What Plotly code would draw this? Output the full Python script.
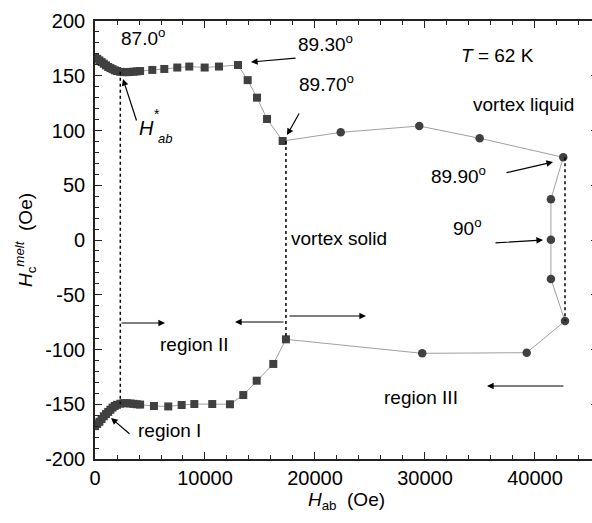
import plotly.graph_objects as go

# ---------------- data ----------------
# upper branch, squares (H_ab in Oe, Hc_melt in Oe)
sq_up_x = [0, 200, 400, 600, 800, 1000, 1200, 1400, 1600, 1800, 2000, 2300, 2600, 2900, 3200, 3500, 3800, 4100,
           5210, 6300, 7480, 8570, 9970, 11270, 13000, 13880, 14730, 15640, 17060]
sq_up_y = [167, 165.5, 164, 162.5, 161, 159.5, 158, 157, 156, 155, 154.3, 153.6, 153.3, 153.3, 153.5, 153.7, 154, 154.3,
           155.3, 156.2, 157.5, 158.4, 157.5, 158.4, 159.8, 146, 130, 110.5, 90.4]
# circles (high-field part), in path order
ci_x = [22340, 29480, 34970, 42570, 41450, 41450, 41450, 42730, 39250, 29750]
ci_y = [98.3, 104.1, 92.9, 75.5, 37.2, 0.3, -35.6, -74, -102.9, -103.5]
# lower branch, squares, in path order (from high field back to zero)
sq_lo_x = [17360, 16210, 14700, 13480, 12270, 10660, 9030, 7880, 6660, 5360,
           4100, 3800, 3500, 3200, 2900, 2600, 2300, 2000, 1800, 1600, 1400, 1200, 1000, 800, 600, 400, 200, 0]
sq_lo_y = [-90.7, -113.2, -128.5, -141.6, -150, -149.8, -149.8, -150.7, -152, -151.6,
           -150.3, -150, -149.6, -149.3, -149, -149, -149.5, -150.5, -151.5, -153, -155, -157, -159, -161, -163.5, -166, -168, -170]
h_star = 2300  # H*_ab position (Oe)

x_ticks = [0, 10000, 20000, 30000, 40000]
y_ticks = [-200, -150, -100, -50, 0, 50, 100, 150, 200]

# ---------------- layout geometry ----------------
# the figure is a few pixels wider than the window so that the right frame
# line falls just outside the visible area, as in the reference
W, H = 598, 523
ML, MR, MT, MB = 95, 0, 21, 64
XR = [0, 45730]
YR = [-200, 200]
PW, PH = W - ML - MR, H - MT - MB


def X(px):  # pixel -> data x (for annotation placement)
    return XR[0] + (px - ML) / PW * (XR[1] - XR[0])


def Y(py):  # pixel -> data y
    return YR[1] - (py - MT) / PH * (YR[1] - YR[0])


FONT = "Liberation Sans, Arial, Helvetica, sans-serif"
MK = "#404040"
LN = "#a0a0a0"

fig = go.Figure()
path_x = sq_up_x + ci_x + sq_lo_x
path_y = sq_up_y + ci_y + sq_lo_y
fig.add_trace(go.Scatter(x=path_x, y=path_y, mode="lines",
                         line=dict(color=LN, width=1), hoverinfo="skip"))
fig.add_trace(go.Scatter(x=sq_up_x + sq_lo_x, y=sq_up_y + sq_lo_y, mode="markers",
                         marker=dict(symbol="square", size=8, color=MK)))
fig.add_trace(go.Scatter(x=ci_x, y=ci_y, mode="markers",
                         marker=dict(symbol="circle", size=8.5, color=MK)))

# dotted vertical guide lines
dot = dict(color="black", width=1.5, dash="dot")
fig.add_shape(type="line", x0=h_star, x1=h_star, y0=153.6, y1=-149.5, line=dot)
fig.add_shape(type="line", x0=sq_lo_x[0], x1=sq_lo_x[0], y0=sq_up_y[-1], y1=sq_lo_y[0], line=dot)
fig.add_shape(type="line", x0=ci_x[7], x1=ci_x[7], y0=ci_y[3], y1=ci_y[7], line=dot)

# text annotations
def txt(s, px, py, size=19):
    fig.add_annotation(x=X(px), y=Y(py), text=s, showarrow=False, xanchor="left", yanchor="middle",
                       font=dict(family=FONT, size=size, color="black"))


txt("87.0<sup>o</sup>", 119, 37)
txt("89.30<sup>o</sup>", 296, 43)
txt("89.70<sup>o</sup>", 297, 83)
txt("<i>T</i> = 62 K", 459, 55)
txt("vortex liquid", 471, 104)
txt("89.90<sup>o</sup>", 429, 175)
txt("90<sup>o</sup>", 451, 227)
txt("vortex solid", 289, 238)
txt("region I", 136, 430)
txt("region II", 158, 344)
txt("region III", 382, 397)
txt("<i>H</i>", 137, 128, 20)
txt("*", 152, 114, 14)
txt("<i>ab</i>", 156, 138, 13)

# arrows: tail (tx,ty) -> head (hx,hy)
def arrow(tx, ty, hx, hy):
    fig.add_annotation(x=X(hx), y=Y(hy), ax=X(tx), ay=Y(ty), xref="x", yref="y", axref="x", ayref="y",
                       text="", showarrow=True, arrowhead=2, arrowsize=1.1, arrowwidth=1.2,
                       arrowcolor="black", standoff=0, startstandoff=0)


arrow(297, 58, 251, 62)
arrow(300, 112, 287, 135)
arrow(505, 173, 553, 162)
arrow(494, 243, 543, 240)
arrow(137, 122, 123, 79)
arrow(131, 435, 111, 418)
arrow(120, 323, 165, 323)
arrow(285, 322, 235, 322)
arrow(288, 316, 366, 316)
arrow(565, 386, 487, 386)

axis_common = dict(showline=True, linecolor="#222", linewidth=1.6, mirror="ticks", ticks="inside",
                   tickcolor="#222", ticklen=7, tickwidth=1.3, showgrid=False, zeroline=False,
                   tickfont=dict(family=FONT, size=20, color="black"))
fig.update_xaxes(range=XR, tickvals=x_ticks, ticktext=[str(v) for v in x_ticks],
                 minor=dict(ticks="inside", dtick=2000, ticklen=4, tickcolor="#222", tickwidth=1.2),
                 title=dict(text="<i>H</i><sub>ab</sub>  (Oe)", font=dict(family=FONT, size=19, color="black"),
                            standoff=4),
                 **axis_common)
fig.update_yaxes(range=YR, tickvals=y_ticks, ticktext=[str(v) for v in y_ticks],
                 minor=dict(ticks="inside", dtick=10, ticklen=4, tickcolor="#222", tickwidth=1.2),
                 title=dict(text="<i>H</i><sub>c</sub><sup><i>melt</i></sup>  (Oe)",
                            font=dict(family=FONT, size=19, color="black"), standoff=8),
                 ticklabelstandoff=4,
                 **axis_common)

fig.update_layout(width=W, height=H, margin=dict(l=ML, r=MR, t=MT, b=MB, autoexpand=False),
                  paper_bgcolor="white", plot_bgcolor="white", showlegend=False,
                  font=dict(family=FONT, color="black"))
fig.write_html("out.html", config={"displayModeBar": False},
               post_script="document.body.style.margin='0';document.body.style.overflow='hidden';")
